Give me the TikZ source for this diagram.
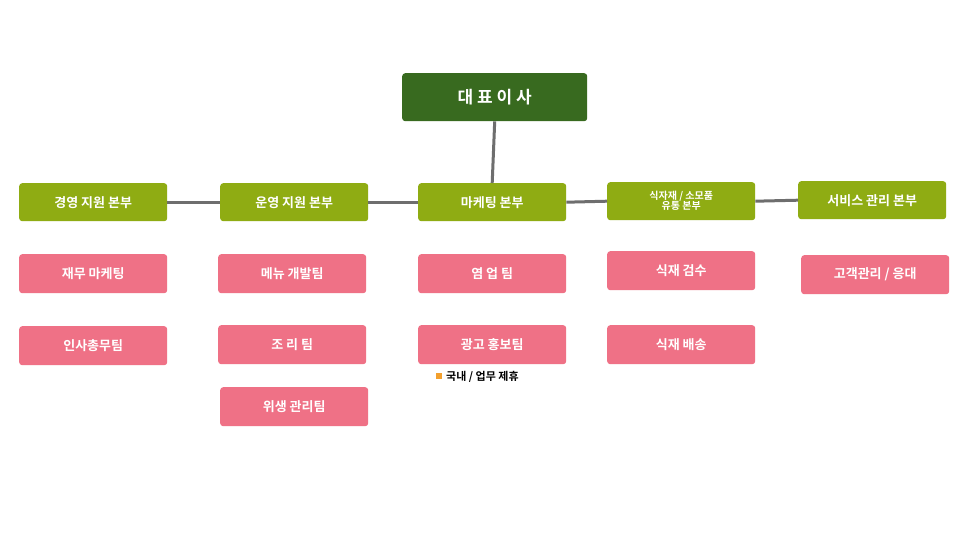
\documentclass[tikz,border=0pt]{standalone}
\usepackage{fontspec}
\setmainfont{Noto Sans CJK KR}[BoldFont={* Bold}]
\definecolor{dgreen}{HTML}{386A1F}
\definecolor{lgreen}{HTML}{8FAC13}
\definecolor{pinkb}{HTML}{EF7186}
\definecolor{linec}{HTML}{6E6E6E}
\definecolor{orangem}{HTML}{F3A02E}
\begin{document}
\begin{tikzpicture}[x=1pt,y=-1pt,
  boxbase/.style={rounded corners=3pt, text=white, font=\bfseries, minimum width=148pt, anchor=north west, inner sep=0pt},
  topbox/.style={boxbase, fill=dgreen, minimum width=185pt, minimum height=48pt, font=\bfseries\fontsize{17}{18}\selectfont},
  divbox/.style={boxbase, fill=lgreen, minimum height=38pt, font=\bfseries\fontsize{13}{14}\selectfont},
  teambox/.style={boxbase, fill=pinkb, minimum height=39pt, font=\bfseries\fontsize{13}{14}\selectfont},
  conn/.style={linec, line width=3pt}]
\fill[white] (0,0) rectangle (966,543);
\node[topbox] (ceo) at (402,73) {대 표 이 사};
\node[divbox] (d1) at (19,183) {경영 지원 본부};
\node[divbox] (d2) at (220,183) {운영 지원 본부};
\node[divbox] (d3) at (418,183) {마케팅 본부};
\node[divbox, align=center, font=\bfseries\fontsize{10}{10}\selectfont] (d4) at (607,182) {식자재 / 소모품\\유통 본부};
\node[divbox] (d5) at (798,181) {서비스 관리 본부};
\draw[conn] (ceo.south) -- (d3.north);
\draw[conn] (d1.east) -- (d2.west);
\draw[conn] (d2.east) -- (d3.west);
\draw[conn] (d3.east) -- (d4.west);
\draw[conn] (d4.east) -- (d5.west);
\node[teambox] (t11) at (19,254) {재무 마케팅};
\node[teambox] (t12) at (19,326) {인사총무팀};
\node[teambox] (t21) at (218,254) {메뉴 개발팀};
\node[teambox] (t22) at (218,325) {조 리 팀};
\node[teambox] (t23) at (220,387) {위생 관리팀};
\node[teambox] (t31) at (418,254) {염 업 팀};
\node[teambox] (t32) at (418,325) {광고 홍보팀};
\node[teambox] (t41) at (607,251) {식재 검수};
\node[teambox] (t42) at (607,325) {식재 배송};
\node[teambox] (t51) at (801,255) {고객관리 / 응대};
\fill[orangem] (436,373) rectangle (442,379) coordinate (mk);
\node[anchor=west, inner sep=0pt, font=\bfseries\fontsize{11}{12}\selectfont] (note) at (446,377) {국내 / 업무 제휴};
\end{tikzpicture}
\end{document}
